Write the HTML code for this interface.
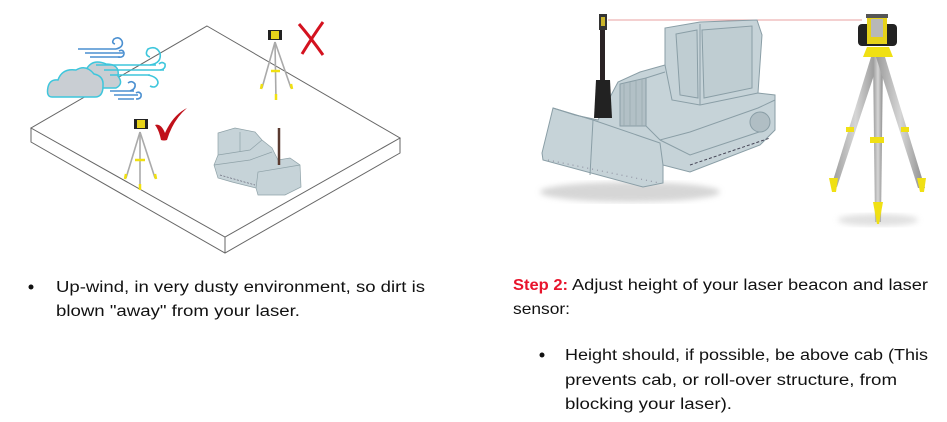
<!DOCTYPE html>
<html><head><meta charset="utf-8"><style>
html,body{margin:0;padding:0;background:#fff;width:947px;height:422px;overflow:hidden}
svg{display:block}
text{font-family:"Liberation Sans",sans-serif;font-size:15.5px;fill:#111}
</style></head><body>
<svg width="947" height="422" viewBox="0 0 947 422">
<defs>
<linearGradient id="leg" x1="0" x2="1"><stop offset="0" stop-color="#9a9a9a"/><stop offset=".5" stop-color="#d6d6d6"/><stop offset="1" stop-color="#8a8a8a"/></linearGradient>
<filter id="sh"><feGaussianBlur stdDeviation="3"/></filter>
</defs>
<g fill="none" stroke="#666" stroke-width="1">
<polygon points="207,26 400,138 225,237 31,128" fill="#fff"/>
<polyline points="31,128 31,142 225,253 400,153 400,138"/>
<line x1="225" y1="237" x2="225" y2="253"/>
</g>
<g stroke="#3ec6dc" stroke-width="1.5" fill="#c9ced3">
<path d="M72,84 q-2,-14 14,-14 q6,-12 20,-6 q14,0 12,12 q6,8 -2,12 h-40 z"/>
<path d="M52,97 q-6,0 -4,-10 q2,-8 10,-7 q4,-12 18,-10 q10,-6 18,4 q10,2 9,12 q0,11 -8,11 z"/>
</g>
<g fill="none" stroke-width="1.6">
<g stroke="#4a8fd0">
<path d="M78,49 h38 M85,53 h38 M90,57 h30"/>
<path d="M116,49 q8,-2 6,-8 q-3,-5 -8,-2 q-3,4 1,5"/>
<path d="M118,57 q6,1 6,-4 q-1,-4 -5,-2"/>
<path d="M110,91 h24 M114,95 h24 M118,99 h16"/>
<path d="M130,91 q6,-2 5,-7 q-3,-4 -7,-1"/>
<path d="M136,99 q6,0 5,-5 q-2,-3 -5,-1"/>
</g>
<g stroke="#3ec6dc">
<path d="M96,65 h60 M104,70 h60 M110,75 h40"/>
<path d="M150,65 q12,-2 10,-12 q-4,-8 -12,-4 q-4,6 2,8"/>
<path d="M160,70 q6,-1 5,-6 q-3,-3 -6,0"/>
<path d="M148,75 q10,2 10,8 q-2,6 -8,3"/>
</g>
</g>
<g>
<rect x="268" y="30" width="14" height="10" fill="#222"/><rect x="271" y="31" width="8" height="8" fill="#e6d21a"/>
<g stroke="#aaa" stroke-width="1.6"><line x1="275" y1="42" x2="262" y2="88"/><line x1="275" y1="42" x2="276" y2="100"/><line x1="275" y1="42" x2="291" y2="88"/></g>
<g stroke="#f0e010" stroke-width="2.5"><line x1="262" y1="84" x2="261" y2="89"/><line x1="276" y1="94" x2="276" y2="100"/><line x1="291" y1="84" x2="292" y2="89"/><line x1="271" y1="71" x2="280" y2="71"/></g>
</g>
<g stroke="#d4121f" stroke-width="3" fill="none"><path d="M299,24 q12,14 24,31"/><path d="M323,22 q-10,14 -21,32"/></g>
<g>
<rect x="134" y="119" width="14" height="10" fill="#222"/><rect x="137" y="120" width="8" height="8" fill="#e6d21a"/>
<g stroke="#aaa" stroke-width="1.6"><line x1="140" y1="132" x2="126" y2="178"/><line x1="140" y1="132" x2="140" y2="190"/><line x1="140" y1="132" x2="155" y2="178"/></g>
<g stroke="#f0e010" stroke-width="2.5"><line x1="126" y1="174" x2="125" y2="179"/><line x1="140" y1="184" x2="140" y2="190"/><line x1="155" y1="174" x2="156" y2="179"/><line x1="135" y1="160" x2="145" y2="160"/></g>
</g>
<path d="M155,125 q6,-2 10,8 q8,-18 22,-25 q-14,12 -20,32 q-3,1 -6,0 q-2,-10 -6,-15z" fill="#c0101a"/>
<g fill="#c6d3d8" stroke="#8fa2a8" stroke-width=".7">
<polygon points="218,133 235,128 255,132 262,140 272,148 278,160 290,158 300,165 301,187 285,195 258,195 256,188 232,182 218,178 214,165 218,155"/>
<polyline points="218,155 250,150 262,140" fill="none"/>
<polyline points="214,165 250,160 272,152" fill="none"/>
<polyline points="256,188 258,172 300,165" fill="none"/>
<line x1="240" y1="132" x2="240" y2="152"/>
<path d="M220,175 L255,185" stroke="#667" stroke-dasharray="2 1.5"/>
</g>
<line x1="279" y1="128" x2="279" y2="165" stroke="#5a3a30" stroke-width="2.5"/>
<line x1="608" y1="20" x2="862" y2="20" stroke="#e8a0a0" stroke-width="1"/>
<ellipse cx="630" cy="192" rx="90" ry="10" fill="#bbb" filter="url(#sh)" opacity=".6"/>
<g fill="#c6d3d8" stroke="#8a9ea6" stroke-width="1">
<polygon points="553,108 575,115 598,120 618,82 640,72 665,65 665,28 700,22 757,20 762,35 758,93 775,95 775,130 760,145 690,172 663,165 663,183 643,187 543,160 542,153"/>
<polyline points="665,65 672,100 700,105 758,93" fill="none"/>
<polyline points="700,24 700,105" fill="none"/>
<polygon points="676,34 697,30 698,98 680,95" fill="#bfcdd2"/>
<polygon points="702,30 752,26 752,88 704,98" fill="#bfcdd2"/>
<polygon points="620,84 646,78 646,126 620,126" fill="#b2c0c6"/>
<g stroke="#98aab0" stroke-width=".8"><line x1="624" y1="84" x2="624" y2="126"/><line x1="630" y1="82" x2="630" y2="126"/><line x1="636" y1="81" x2="636" y2="126"/><line x1="642" y1="79" x2="642" y2="126"/></g>
<polyline points="646,78 665,72" fill="none"/>
<polyline points="646,126 660,140 690,132 758,108 775,100" fill="none"/>
<polyline points="660,140 690,155 765,130" fill="none"/>
<polyline points="553,108 593,120 660,143 663,165" fill="none"/>
<line x1="593" y1="120" x2="590" y2="175"/>
<circle cx="760" cy="122" r="10" fill="#b0bec4"/>
<path d="M690,165 L770,138" stroke="#445" stroke-dasharray="3 2"/>
<path d="M548,160 L660,183" stroke="#889" stroke-dasharray="1 4"/>
</g>
<rect x="599" y="14" width="8" height="16" fill="#333"/>
<rect x="601" y="17" width="4" height="9" fill="#c9b42a"/>
<rect x="600" y="30" width="5" height="50" fill="#2a2224"/>
<path d="M596,80 h14 l2,38 h-18 z" fill="#222"/>
<g>
<ellipse cx="878" cy="220" rx="40" ry="6" fill="#ccc" filter="url(#sh)" opacity=".6"/>
<polygon points="871,57 880,57 837,187 831,187" fill="url(#leg)"/>
<polygon points="873,57 883,57 881,222 875,222" fill="url(#leg)"/>
<polygon points="876,57 885,57 925,188 918,188" fill="url(#leg)"/>
<path d="M829,178 h9 l-2,14 h-4 z" fill="#f0e014"/>
<path d="M917,178 h9 l-2,14 h-4 z" fill="#f0e014"/>
<path d="M873,202 h10 l-4,22 h-2 z" fill="#f0e014"/>
<rect x="846" y="127" width="8" height="5" fill="#f0e014"/>
<rect x="901" y="127" width="8" height="5" fill="#f0e014"/>
<rect x="870" y="137" width="14" height="6" fill="#f0e014"/>
<polygon points="867,47 889,47 893,57 863,57" fill="#f0e014"/>
<rect x="858" y="24" width="39" height="22" rx="4" fill="#222"/>
<rect x="867" y="17" width="20" height="27" fill="#e6d21a"/>
<rect x="871" y="19" width="12" height="18" fill="#b8b8b8"/>
<rect x="866" y="14" width="22" height="4" fill="#555"/>
</g>
<circle cx="31" cy="287" r="2.5" fill="#111"/>
<text x="56" y="292" textLength="369" lengthAdjust="spacingAndGlyphs">Up-wind, in very dusty environment, so dirt is</text>
<text x="56" y="316" textLength="244" lengthAdjust="spacingAndGlyphs">blown "away" from your laser.</text>
<text x="513" y="290" textLength="55" lengthAdjust="spacingAndGlyphs" style="fill:#e8142c;font-weight:bold">Step 2:</text>
<text x="572" y="290" textLength="356" lengthAdjust="spacingAndGlyphs">Adjust height of your laser beacon and laser</text>
<text x="513" y="314" textLength="57" lengthAdjust="spacingAndGlyphs" style="font-size:16px">sensor:</text>
<circle cx="542" cy="355" r="2.5" fill="#111"/>
<text x="565" y="360" textLength="363" lengthAdjust="spacingAndGlyphs">Height should, if possible, be above cab (This</text>
<text x="565" y="385" textLength="332" lengthAdjust="spacingAndGlyphs">prevents cab, or roll-over structure, from</text>
<text x="565" y="409" textLength="167" lengthAdjust="spacingAndGlyphs">blocking your laser).</text>
</svg>
</body></html>
